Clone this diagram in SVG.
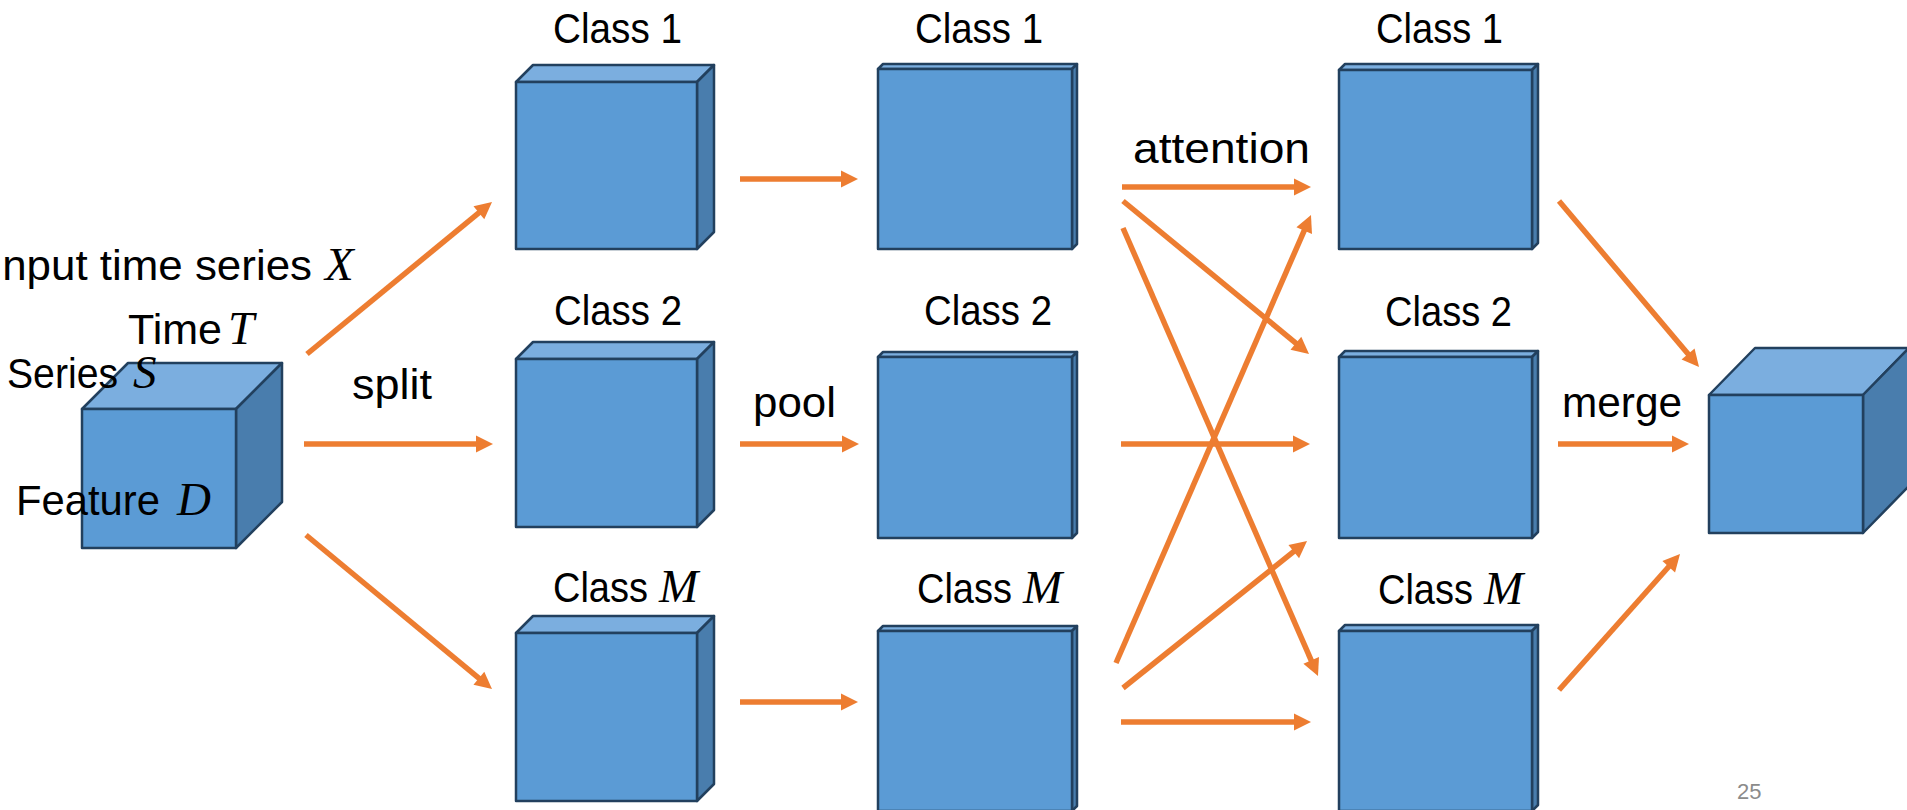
<svg xmlns="http://www.w3.org/2000/svg" width="1907" height="810" viewBox="0 0 1907 810">
  <defs>
    <style>
      .front { fill: #5B9BD5; stroke: #22405E; stroke-width: 2.5; stroke-linejoin: round; }
      .top { fill: #7BAEDF; stroke: #22405E; stroke-width: 2.5; stroke-linejoin: round; }
      .side { fill: #497DAD; stroke: #22405E; stroke-width: 2.5; stroke-linejoin: round; }
      .lbl { font-family: "Liberation Sans", Arial, sans-serif; font-size: 42px; fill: #000; }
      .math { font-family: "Liberation Serif", "Times New Roman", serif; font-style: italic; font-size: 47px; fill: #000; }
      .conn { stroke: #ED7D31; stroke-width: 5.5; fill: none; marker-end: url(#head); }
      .pg { font-family: "Liberation Sans", Arial, sans-serif; font-size: 22px; fill: #8B8B8B; }
    </style>
    <marker id="head" markerUnits="userSpaceOnUse" viewBox="0 -10 20 20" markerWidth="20" markerHeight="20" refX="3" refY="0" orient="auto" overflow="visible">
      <path d="M0,-8.5 L17,0 L0,8.5 z" fill="#ED7D31"/>
    </marker>
  </defs>

  <!-- input tensor -->
  <g id="input">
    <polygon class="top" points="82,409 128,363 282,363 236,409"/>
    <polygon class="side" points="236,409 282,363 282,502 236,548"/>
    <rect class="front" x="82" y="409" width="154" height="139"/>
    <text class="lbl" x="-10" y="280" textLength="322" lengthAdjust="spacingAndGlyphs">Input time series</text>
    <text class="math" x="325" y="280">X</text>
    <text class="lbl" x="128" y="344" textLength="94" lengthAdjust="spacingAndGlyphs">Time</text>
    <text class="math" x="228" y="344">T</text>
    <text class="lbl" x="7" y="388" textLength="111" lengthAdjust="spacingAndGlyphs">Series</text>
    <text class="math" x="133" y="388">S</text>
    <text class="lbl" x="16" y="515" textLength="144" lengthAdjust="spacingAndGlyphs">Feature</text>
    <text class="math" x="177" y="515">D</text>
  </g>

  <!-- split column -->
  <g id="split-1">
    <polygon class="top" points="516,82 533,65 714,65 697,82"/>
    <polygon class="side" points="697,82 714,65 714,232 697,249"/>
    <rect class="front" x="516" y="82" width="181" height="167"/>
    <text class="lbl" x="553" y="43" textLength="129" lengthAdjust="spacingAndGlyphs">Class 1</text>
  </g>
  <g id="split-2">
    <polygon class="top" points="516,359 533,342 714,342 697,359"/>
    <polygon class="side" points="697,359 714,342 714,510 697,527"/>
    <rect class="front" x="516" y="359" width="181" height="168"/>
    <text class="lbl" x="554" y="325" textLength="128" lengthAdjust="spacingAndGlyphs">Class 2</text>
  </g>
  <g id="split-m">
    <polygon class="top" points="516,633 533,616 714,616 697,633"/>
    <polygon class="side" points="697,633 714,616 714,784 697,801"/>
    <rect class="front" x="516" y="633" width="181" height="168"/>
    <text class="lbl" x="553" y="602" textLength="95" lengthAdjust="spacingAndGlyphs">Class</text>
    <text class="math" x="659" y="602">M</text>
  </g>

  <!-- pooled column -->
  <g id="pool-1">
    <polygon class="top" points="878,69 883,64 1077,64 1072,69"/>
    <polygon class="side" points="1072,69 1077,64 1077,244 1072,249"/>
    <rect class="front" x="878" y="69" width="194" height="180"/>
    <text class="lbl" x="915" y="43" textLength="128" lengthAdjust="spacingAndGlyphs">Class 1</text>
  </g>
  <g id="pool-2">
    <polygon class="top" points="878,357 883,352 1077,352 1072,357"/>
    <polygon class="side" points="1072,357 1077,352 1077,533 1072,538"/>
    <rect class="front" x="878" y="357" width="194" height="181"/>
    <text class="lbl" x="924" y="325" textLength="128" lengthAdjust="spacingAndGlyphs">Class 2</text>
  </g>
  <g id="pool-m">
    <polygon class="top" points="878,631 883,626 1077,626 1072,631"/>
    <polygon class="side" points="1072,631 1077,626 1077,806 1072,811"/>
    <rect class="front" x="878" y="631" width="194" height="180"/>
    <text class="lbl" x="917" y="603" textLength="95" lengthAdjust="spacingAndGlyphs">Class</text>
    <text class="math" x="1023" y="603">M</text>
  </g>

  <!-- attended column -->
  <g id="attn-1">
    <polygon class="top" points="1339,70 1345,64 1538,64 1532,70"/>
    <polygon class="side" points="1532,70 1538,64 1538,243 1532,249"/>
    <rect class="front" x="1339" y="70" width="193" height="179"/>
    <text class="lbl" x="1376" y="43" textLength="127" lengthAdjust="spacingAndGlyphs">Class 1</text>
  </g>
  <g id="attn-2">
    <polygon class="top" points="1339,357 1345,351 1538,351 1532,357"/>
    <polygon class="side" points="1532,357 1538,351 1538,532 1532,538"/>
    <rect class="front" x="1339" y="357" width="193" height="181"/>
    <text class="lbl" x="1385" y="326" textLength="127" lengthAdjust="spacingAndGlyphs">Class 2</text>
  </g>
  <g id="attn-m">
    <polygon class="top" points="1339,631 1345,625 1538,625 1532,631"/>
    <polygon class="side" points="1532,631 1538,625 1538,805 1532,811"/>
    <rect class="front" x="1339" y="631" width="193" height="180"/>
    <text class="lbl" x="1378" y="604" textLength="95" lengthAdjust="spacingAndGlyphs">Class</text>
    <text class="math" x="1484" y="604">M</text>
  </g>

  <!-- merged output -->
  <g id="output">
    <polygon class="top" points="1709,395 1755,348 1909,348 1863,395"/>
    <polygon class="side" points="1863,395 1909,348 1909,486 1863,533"/>
    <rect class="front" x="1709" y="395" width="154" height="138"/>
  </g>

  <!-- connectors -->
  <g id="connectors">
    <line class="conn" x1="307" y1="354" x2="481.2" y2="210.9"/>
    <line class="conn" x1="304" y1="444" x2="479" y2="444"/>
    <line class="conn" x1="306" y1="535" x2="481.2" y2="680.1"/>

    <line class="conn" x1="740" y1="179" x2="844" y2="179"/>
    <line class="conn" x1="740" y1="444" x2="845" y2="444"/>
    <line class="conn" x1="740" y1="702" x2="844" y2="702"/>

    <line class="conn" x1="1122" y1="187" x2="1297" y2="187"/>
    <line class="conn" x1="1123" y1="201" x2="1298.2" y2="345.1"/>
    <line class="conn" x1="1123" y1="228" x2="1312.4" y2="663.2"/>
    <line class="conn" x1="1121" y1="444" x2="1296" y2="444"/>
    <line class="conn" x1="1116" y1="663" x2="1305.4" y2="227.8"/>
    <line class="conn" x1="1123" y1="688" x2="1296.1" y2="549.7"/>
    <line class="conn" x1="1121" y1="722" x2="1297" y2="722"/>

    <line class="conn" x1="1559" y1="201" x2="1690" y2="356.3"/>
    <line class="conn" x1="1558" y1="444" x2="1675" y2="444"/>
    <line class="conn" x1="1559" y1="690" x2="1670.7" y2="564.5"/>
  </g>

  <!-- edge labels -->
  <g id="edge-labels">
    <text class="lbl" x="352" y="399" textLength="80" lengthAdjust="spacingAndGlyphs">split</text>
    <text class="lbl" x="753" y="417" textLength="83" lengthAdjust="spacingAndGlyphs">pool</text>
    <text class="lbl" x="1133" y="163" textLength="177" lengthAdjust="spacingAndGlyphs">attention</text>
    <text class="lbl" x="1562" y="417" textLength="120" lengthAdjust="spacingAndGlyphs">merge</text>
  </g>

  <text class="pg" x="1737" y="799">25</text>
</svg>
